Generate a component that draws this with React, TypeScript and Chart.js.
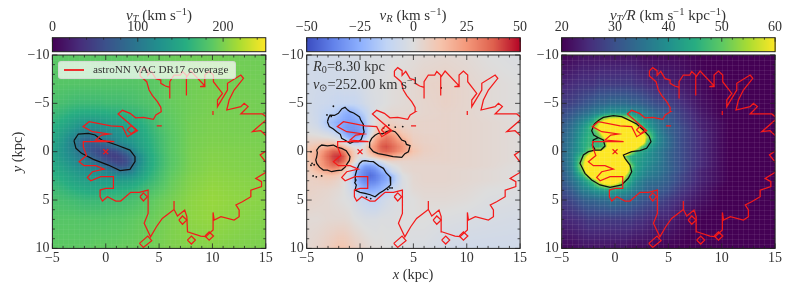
import React, { useEffect, useRef } from "react";
import { Chart, registerables } from "chart.js";

Chart.register(...registerables);

type P = [number, number];

const xNodes = [-5,-4,-3,-2.5,-2,-1.5,-1,-0.5,0,0.5,1,1.5,2,2.5,3,4,5,6,8,10,12,15];
const yNodes = [-10,-7,-5,-4,-3,-2.5,-2,-1.5,-1,-0.5,0,0.5,1,1.5,2,2.5,3,4,5,7,10];

const vTValues = [
[186,187,188,188,188,188,188,188,188,188,188,188,189,189,190,191,192,193,195,196,196,195],
[184,184,183,183,183,183,183,183,183,183,183,183,183,183,184,186,188,192,196,198,197,196],
[178,175,171,170,170,170,170,170,172,172,172,172,174,175,177,181,186,191,196,199,198,197],
[170,164,157,155,154,154,154,155,155,158,158,161,163,164,166,174,183,189,196,199,198,197],
[162,153,141,136,133,132,132,134,137,140,142,144,147,150,153,166,179,187,197,200,199,198],
[158,147,134,126,121,120,122,124,127,130,132,137,140,144,149,162,176,186,197,200,199,198],
[155,141,124,114,108,104,107,112,117,122,127,130,134,140,145,160,174,185,197,200,199,198],
[152,136,114,102,94,92,94,100,110,115,122,126,130,135,143,158,172,184,198,201,200,199],
[149,132,106,92,80,76,80,87,94,104,112,120,127,132,141,156,171,184,198,201,200,199],
[147,129,108,92,76,68,66,68,74,82,92,102,112,124,137,154,170,184,198,202,201,200],
[146,129,111,96,82,70,62,54,50,52,58,72,87,107,128,152,169,184,199,203,202,200],
[148,131,115,104,94,82,72,62,54,48,46,54,67,87,115,149,167,183,199,204,202,200],
[151,136,121,114,106,98,88,78,66,58,52,52,60,82,113,149,167,183,199,204,203,200],
[154,142,128,122,116,112,106,98,88,77,68,64,70,92,121,150,168,184,200,205,203,201],
[157,147,135,130,126,124,120,116,110,102,97,94,97,110,128,154,171,186,200,206,204,201],
[160,152,142,137,134,132,130,128,126,122,120,120,122,127,138,159,174,188,202,207,205,202],
[164,156,146,143,141,140,139,138,137,137,137,138,140,144,151,164,177,190,203,208,206,203],
[172,166,159,156,154,152,152,154,154,156,157,158,160,162,166,176,185,193,205,210,207,204],
[178,175,172,170,168,168,168,168,170,170,172,172,174,176,179,186,192,197,207,211,208,205],
[184,184,184,183,183,183,183,183,183,185,185,185,187,188,190,192,196,200,207,210,206,203],
[188,188,188,188,188,188,190,190,190,190,190,192,192,192,193,195,198,201,203,204,202,200],
];

const vRValues = [
[-6,-6,-5,-5,-5,-4,-4,-4,-3,-3,-2,-2,-2,-2,-1,0,1,2,3,2,0,-2],
[-5,-6,-6,-6,-6,-5,-5,-5,-4,-3,-2,-1,-1,0,1,2,3,5,6,4,2,0],
[-5,-7,-8,-9,-10,-10,-10,-10,-8,-5,-3,-2,-1,0,1,2,3,4,6,4,2,0],
[-4,-8,-12,-14,-18,-24,-26,-22,-17,-12,-5,-1,1,2,3,3,3,4,5,4,2,0],
[-3,-7,-18,-22,-26,-28,-30,-30,-27,-18,-4,2,6,7,7,5,5,5,5,4,3,1],
[-2,-5,-14,-19,-24,-30,-32,-32,-30,-22,-6,4,9,12,11,7,5,5,5,4,3,1],
[0,-2,-6,-10,-17,-26,-32,-34,-30,-22,-5,9,19,24,20,10,6,5,5,4,3,1],
[3,2,0,-2,-6,-17,-26,-28,-24,-16,2,18,26,32,28,15,7,6,5,4,3,1],
[6,7,9,7,3,-3,-14,-20,-16,-4,12,24,34,36,32,22,8,6,5,4,3,1],
[9,13,20,24,22,14,6,0,-3,5,20,28,38,40,36,26,10,7,5,4,3,1],
[11,18,32,38,38,30,18,8,0,5,18,26,34,36,33,24,12,7,5,4,3,1],
[11,20,36,42,44,38,21,8,0,1,7,13,19,21,19,12,8,6,5,4,3,1],
[9,20,33,40,42,34,18,3,-8,-14,-14,-10,-3,3,5,5,5,5,5,4,3,1],
[8,20,30,34,32,22,6,-9,-22,-30,-30,-26,-18,-8,-2,3,4,4,4,4,3,0],
[7,15,22,23,20,10,-2,-20,-30,-36,-38,-34,-26,-20,-8,2,4,4,4,3,2,0],
[6,9,12,12,9,4,-6,-21,-32,-38,-42,-38,-32,-26,-20,-1,3,4,4,3,2,0],
[6,7,8,7,5,1,-7,-20,-30,-36,-38,-36,-30,-26,-20,-2,3,4,4,3,2,0],
[6,5,4,3,2,0,-4,-10,-19,-24,-26,-24,-22,-16,-8,-2,2,3,3,2,0,-1],
[5,4,3,2,1,0,-1,-4,-7,-10,-12,-12,-8,-5,-3,-1,0,2,2,1,-1,-2],
[2,2,3,3,3,3,2,0,-1,-2,-2,-2,-1,-1,-1,0,0,0,-1,-2,-3,-4],
[3,5,8,10,12,12,10,8,6,4,2,1,1,0,0,-1,-2,-2,-5,-6,-6,-6],
];

const omegaValues = [
[20,21,22,22,22,22,22,22,22,22,22,22,22,21,21,21,21,21,20,19,18,17],
[24,25,26,26,26,27,27,27,27,27,27,27,26,26,25,24,24,23,21,19,18,17],
[27,28,30,31,32,33,33,34,34,34,34,33,33,32,31,29,28,26,22,20,18,17],
[29,31,34,35,37,38,40,41,41,41,41,40,39,38,36,33,31,28,23,20,18,17],
[31,34,39,42,46,56,64,70,72,72,70,62,50,44,41,36,32,29,24,21,18,17],
[32,35,41,45,52,62,72,80,80,80,80,74,60,50,43,37,33,30,24,21,18,17],
[32,36,42,45,46,54,70,85,85,85,85,80,72,60,50,38,33,30,25,21,18,17],
[33,36,43,46,47,49,60,80,90,90,90,85,80,70,54,39,34,30,25,21,18,17],
[33,37,44,46,46,46,49,70,90,100,100,90,85,72,48,39,34,30,25,21,18,17],
[33,37,44,47,47,46,49,68,100,110,110,90,66,50,44,38,34,30,25,21,18,17],
[33,38,44,50,60,62,66,85,120,120,85,58,46,43,41,37,33,30,25,21,18,17],
[33,38,50,62,72,78,85,95,90,72,50,44,43,42,40,37,33,30,25,21,18,17],
[33,38,54,70,82,90,95,95,90,82,60,46,43,41,40,37,33,30,25,21,18,17],
[32,38,56,72,85,95,95,95,90,85,72,52,43,41,39,36,33,30,25,21,18,17],
[32,37,52,68,82,90,95,95,90,85,70,48,42,40,38,36,33,30,24,21,18,17],
[31,36,46,56,70,80,88,88,85,78,56,45,41,39,37,35,32,29,24,21,18,17],
[31,35,41,45,50,60,68,70,68,60,49,43,39,37,35,34,32,29,24,21,18,17],
[29,32,37,38,40,41,42,43,42,41,40,38,36,35,33,32,30,27,23,20,18,17],
[27,29,32,33,33,34,34,35,35,34,34,33,32,31,30,29,27,25,22,20,18,17],
[24,25,26,27,27,27,27,27,27,27,27,27,26,26,25,24,24,22,20,19,18,17],
[21,21,22,22,22,22,22,22,22,22,22,21,21,21,21,20,20,20,19,18,17,17],
];

const coverageMain: P[] = [
[3.22,-8.34],[3.53,-8.69],[3.94,-8.38],[3.94,-7.9],[4.28,-8.31],[4.69,-7.55],[5.16,-7.41],[5.16,-7.07],[5.59,-6.79],[6,-6.66],[6,-5.5],[6,-7.24],[6.4,-7.93],[7,-7.93],[7.19,-8.3],[7.56,-7.9],[7.56,-5.8],[7.56,-7.7],[7.97,-8.34],[9.28,-6.8],[8.84,-6.72],[9.28,-6.72],[9.28,-7.93],[9.69,-8.34],[10.09,-7.93],[10.09,-7.24],[10.94,-6.03],[10.47,-5.34],[10.47,-4.66],[10.94,-5.52],[11.41,-6.38],[11.41,-7.07],[12.66,-7.93],[12.91,-7.59],[12.03,-6.38],[11.56,-5.34],[11.34,-4.31],[12.66,-4.66],[12.97,-5],[13.34,-4.66],[12.66,-3.9],[14.69,-3.9],[15.2,-3.45],[13.75,-2.07],[14.53,-2.17],[15.2,-1.48],[15.2,-0.2],[14.47,0.34],[15.1,1.2],[15.1,2.07],[14.06,2.76],[14.6,3.1],[14.6,3.6],[13.6,3.97],[13.6,4.66],[12.8,5.17],[12.2,5.5],[12.5,6.03],[12.5,6.72],[12.03,7.07],[10.8,6.72],[10.16,7.07],[10.06,6.28],[10.06,8.1],[9.38,8.79],[8.9,8.72],[7.66,8.28],[7.6,6.72],[7.4,6.03],[6.72,6.66],[6.4,5.97],[6.4,5.1],[6.4,5.97],[5.3,6.9],[4.75,7.76],[4.2,8.8],[3.6,7.4],[3.97,6.38],[3.97,3.97],[3.13,4.2],[2.34,4.2],[1.4,5.1],[0.94,5.1],[0.16,4.66],[-0.31,5.1],[-0.53,4.66],[-0.53,3.97],[0,3.8],[0.72,3.8],[0.72,2.59],[-0.47,2.59],[-1.4,3],[-1.72,2.66],[-1.25,2.07],[-0.16,1.8],[-0.94,1.45],[-2.03,1.45],[-2.5,1.03],[-1.8,0.4],[-2.1,-0.5],[-2.1,-1.03],[0.8,-1.03],[-0.94,-1.2],[-0.4,-1.72],[0.3,-1.83],[-1.25,-2.07],[-2.13,-2.59],[-1.56,-3.1],[0.47,-2.66],[1.56,-2.59],[2.03,-1.55],[2.97,-2.17],[1.16,-3.9],[1.56,-4.28],[2.28,-3.97],[2.8,-3.5],[3.53,-3.55],[4.47,-3.34],[4.7,-3.8],[5.2,-4.14],[5.16,-4.59],[4.84,-5.17],[4.38,-5.8],[4.06,-6.38],[3.84,-7.24],[3.22,-7.83],[3.22,-8.34],
];
const coverageDiamonds: P[][] = [
[[2.0,-2.24],[2.4,-2.7],[2.85,-2.24],[2.4,-1.85],[2.0,-2.24]],
[[3.2,4.66],[3.53,4.25],[3.9,4.66],[3.53,5.1],[3.2,4.66]],
[[6.85,7.07],[7.19,6.65],[7.6,7.07],[7.19,7.5],[6.85,7.07]],
[[7.65,9.14],[8.03,8.72],[8.4,9.14],[8.03,9.55],[7.65,9.14]],
[[9.3,8.72],[9.69,8.3],[10.1,8.72],[9.69,9.14],[9.3,8.72]],
[[3.16,9.48],[3.94,8.72],[4.31,9.2],[3.53,9.9],[3.16,9.48]],
];
const coverageDashes: P[][] = [
[[4.78,-2.66],[5.25,-2.66]],
[[10.05,-4.2],[10.05,-3.8]],
];

const barContour: P[] = [[-2.98,-1.14],[-2.57,-1.83],[-1.63,-1.9],[-1.0,-1.73],[-0.38,-1.21],[1.02,-0.69],[2.27,-0.17],[2.74,0.51],[2.74,1.03],[2.27,1.82],[1.34,1.96],[0.24,1.38],[-1.16,0.79],[-2.26,0.17],[-2.79,-0.35],[-2.98,-1.14]];
const lobeTopLeft: P[] = [[-3.06,-3.1],[-2.95,-3.5],[-2.81,-3.79],[-2.4,-3.75],[-2.03,-3.97],[-1.7,-4.45],[-1.41,-4.59],[-1.15,-4.3],[-0.94,-4.14],[-0.6,-4.0],[-0.31,-3.79],[-0.05,-3.6],[0.06,-3.28],[0.3,-2.85],[0.31,-2.41],[0.38,-2.05],[0.25,-1.72],[0.1,-1.25],[-0.16,-1.03],[-0.55,-1.05],[-0.94,-0.86],[-1.35,-1.15],[-1.72,-1.38],[-1.85,-1.8],[-2.19,-2.07],[-2.5,-2.35],[-2.88,-2.59],[-3.06,-3.1]];
const lobeRight: P[] = [[0.84,-0.52],[0.9,-0.95],[1.09,-1.38],[1.4,-1.7],[1.72,-1.9],[2.1,-1.85],[2.5,-2.07],[2.9,-2.2],[3.28,-2.07],[3.55,-1.75],[3.91,-1.21],[4.25,-1.05],[4.35,-0.75],[4.69,-0.62],[4.6,-0.25],[4.53,0],[4.2,0.2],[3.91,0.59],[3.1,0.5],[2.34,0.34],[1.7,0.2],[1.25,0],[0.84,-0.52]];
const lobeLeft: P[] = [[-4.06,0.52],[-4.0,0.1],[-4.06,-0.17],[-3.85,-0.5],[-3.59,-0.69],[-3.05,-0.6],[-2.5,-0.69],[-2.1,-0.45],[-1.72,-0.34],[-1.3,-0.1],[-0.94,0.52],[-1.0,0.9],[-1.19,1.21],[-1.4,1.6],[-1.72,1.9],[-2.2,1.95],[-2.66,2.07],[-3.05,1.9],[-3.44,1.9],[-3.8,1.6],[-4.06,1.21],[-4.15,0.85],[-4.06,0.52]];
const lobeBottom: P[] = [[-0.06,1.21],[0.2,0.98],[0.47,0.93],[0.85,1.0],[1.25,1.03],[1.75,1.45],[2.19,1.72],[2.45,2.2],[2.81,2.59],[2.85,3.05],[2.88,3.45],[2.6,3.7],[2.19,4.03],[1.8,4.3],[1.41,4.66],[0.95,4.45],[0.47,4.31],[0,4.2],[-0.47,3.97],[-0.35,3.45],[-0.5,3.2],[-0.38,2.93],[-0.45,2.45],[-0.31,1.9],[-0.06,1.21]];
const blobContour: P[] = [[-1.94,-2.86],[-1.5,-3.28],[-1.1,-3.55],[-0.16,-3.73],[0.62,-3.62],[1.4,-3.21],[2.03,-2.86],[2.65,-2.24],[3.18,-1.62],[3.37,-1.04],[2.96,-0.35],[2.34,-0.11],[1.56,0],[0.78,0.34],[0.93,0.69],[1.4,1.38],[1.56,2.07],[1.24,2.75],[0.62,3.44],[-0.47,3.69],[-1.41,3.44],[-2.19,2.93],[-2.82,2.24],[-3.29,1.2],[-2.97,0.34],[-2.5,0],[-1.88,-0.17],[-1.32,-0.17],[-0.94,-0.59],[-1.1,-1.21],[-1.57,-1.45],[-2.04,-1.21],[-2.13,-0.69],[-1.88,-0.24],[-2.13,-0.69],[-2.04,-1.21],[-1.57,-1.45],[-2.0,-1.73],[-2.19,-2.17],[-1.94,-2.86]];
const speckles: P[] = [[-2.5,-4.7],[-3.1,-3.8],[-2.7,-3.65],[2.2,-2.45],[2.7,-2.75],[3.3,-2.55],[4.0,-2.6],[-4.6,0.0],[-4.5,1.2],[-4.3,1.35],[-4.6,1.4],[-4.4,2.5],[-4.1,2.6],[-3.6,2.5],[0.6,4.7],[1.0,4.85],[2.8,3.75],[3.0,3.75],[2.6,3.9],[7.6,-6.6]];

const cbarTicks = { vT: 100, vR: 25, omega: 10 };

const viridis = [[68,1,84],[71,44,122],[59,81,139],[44,113,142],[33,144,141],[39,173,129],[92,200,99],[170,220,50],[253,231,37]];
const coolwarm = [[59,76,192],[98,130,234],[141,176,254],[192,212,245],[221,221,221],[245,196,173],[244,152,122],[222,96,77],[180,4,38]];

function cmapColor(map: number[][], t: number) {
  const c = Math.max(0, Math.min(1, t)) * (map.length - 1);
  const i = Math.min(map.length - 2, Math.floor(c));
  const f = c - i;
  return [0, 1, 2].map((k) => map[i][k] + (map[i + 1][k] - map[i][k]) * f);
}

function locate(nodes: number[], v: number): [number, number] {
  let i = 0;
  while (i < nodes.length - 2 && v > nodes[i + 1]) i++;
  const f = (v - nodes[i]) / (nodes[i + 1] - nodes[i]);
  return [i, Math.max(0, Math.min(1, f))];
}

function heatPlugin(map: number[][], min: number, max: number, meshAlpha: number) {
  return {
    id: "heat",
    beforeDatasetsDraw(chart: any) {
      const { ctx, chartArea: a, scales } = chart;
      const cells = chart.data.datasets[0].data;
      const nx = xNodes.length;
      const x0 = Math.floor(a.left), y0 = Math.floor(a.top);
      const w = Math.ceil(a.right) - x0, h = Math.ceil(a.bottom) - y0;
      const off = document.createElement("canvas");
      off.width = w; off.height = h;
      const oc = off.getContext("2d")!;
      const img = oc.createImageData(w, h);
      for (let py = 0; py < h; py++) {
        const [j, fy] = locate(yNodes, scales.y.getValueForPixel(y0 + py + 0.5));
        for (let px = 0; px < w; px++) {
          const [i, fx] = locate(xNodes, scales.x.getValueForPixel(x0 + px + 0.5));
          const a00 = cells[j * nx + i].v, a10 = cells[j * nx + i + 1].v;
          const a01 = cells[(j + 1) * nx + i].v, a11 = cells[(j + 1) * nx + i + 1].v;
          const v = (a00 * (1 - fx) + a10 * fx) * (1 - fy) + (a01 * (1 - fx) + a11 * fx) * fy;
          const c = cmapColor(map, (v - min) / (max - min));
          const o = (py * w + px) * 4;
          img.data[o] = c[0]; img.data[o + 1] = c[1]; img.data[o + 2] = c[2]; img.data[o + 3] = 255;
        }
      }
      oc.putImageData(img, 0, 0);
      ctx.save();
      ctx.beginPath();
      ctx.rect(a.left, a.top, a.right - a.left, a.bottom - a.top);
      ctx.clip();
      ctx.drawImage(off, x0, y0);
      ctx.strokeStyle = `rgba(255,255,255,${meshAlpha})`;
      ctx.lineWidth = 1;
      for (let v = -5; v <= 15; v += 0.5) {
        const p = Math.round(scales.x.getPixelForValue(v)) + 0.5;
        ctx.beginPath(); ctx.moveTo(p, a.top); ctx.lineTo(p, a.bottom); ctx.stroke();
      }
      for (let v = -10; v <= 10; v += 0.5) {
        const p = Math.round(scales.y.getPixelForValue(v)) + 0.5;
        ctx.beginPath(); ctx.moveTo(a.left, p); ctx.lineTo(a.right, p); ctx.stroke();
      }
      ctx.restore();
    },
  };
}

const frameColor = "#222";

function drawFrame(ctx: any, a: any) {
  ctx.strokeStyle = frameColor;
  ctx.lineWidth = 1;
  ctx.strokeRect(a.left, a.top, a.right - a.left, a.bottom - a.top);
}

const framePlugin = {
  id: "frameTicks",
  afterDraw(chart: any) {
    const { ctx, chartArea: a, scales } = chart;
    ctx.save();
    drawFrame(ctx, a);
    ctx.strokeStyle = frameColor;
    ctx.lineWidth = 0.8;
    for (let v = -5; v <= 15; v++) {
      const len = v % 5 === 0 ? 5 : 2.5;
      const p = scales.x.getPixelForValue(v);
      ctx.beginPath();
      ctx.moveTo(p, a.bottom); ctx.lineTo(p, a.bottom - len);
      ctx.moveTo(p, a.top); ctx.lineTo(p, a.top + len);
      ctx.stroke();
    }
    for (let v = -10; v <= 10; v++) {
      const len = v % 5 === 0 ? 5 : 2.5;
      const p = scales.y.getPixelForValue(v);
      ctx.beginPath();
      ctx.moveTo(a.left, p); ctx.lineTo(a.left + len, p);
      ctx.moveTo(a.right, p); ctx.lineTo(a.right - len, p);
      ctx.stroke();
    }
    ctx.restore();
  },
};

function cbarPlugin(map: number[][], min: number, max: number, major: number) {
  return {
    id: "cbar",
    afterDraw(chart: any) {
      const { ctx, chartArea: a, scales } = chart;
      ctx.save();
      for (let px = Math.floor(a.left); px < a.right; px++) {
        const v = scales.x.getValueForPixel(px + 0.5);
        const c = cmapColor(map, (v - min) / (max - min));
        ctx.fillStyle = `rgb(${c[0]},${c[1]},${c[2]})`;
        ctx.fillRect(px, a.top, 1, a.bottom - a.top);
      }
      drawFrame(ctx, a);
      ctx.strokeStyle = frameColor;
      ctx.lineWidth = 0.8;
      const minor = major / 5;
      for (let k = 0; min + k * minor <= max + 1e-9; k++) {
        const p = scales.x.getPixelForValue(min + k * minor);
        const len = k % 5 === 0 ? 4 : 2;
        ctx.beginPath(); ctx.moveTo(p, a.top); ctx.lineTo(p, a.top + len); ctx.stroke();
      }
      ctx.restore();
    },
  };
}

const tickFont = { family: "'Liberation Serif'", size: 14 };
const fmt = (v: any) => String(v).replace("-", "\u2212");

const toPts = (p: P[]) => p.map(([x, y]) => ({ x, y }));
const lineDs = (p: P[], color: string, bw = 1.25) => ({
  data: toPts(p), showLine: true, borderColor: color, borderWidth: bw,
  pointRadius: 0, tension: 0, fill: false,
});

const plotTop = 55, plotBottom = 248.4, plotWidth = 213.4;
const barTop = 37.7, barBottom = 51.7;

function Panel({ left, grid, map, min, max, major, contours, mesh, dots }: any) {
  const mainRef = useRef<HTMLCanvasElement>(null);
  const barRef = useRef<HTMLCanvasElement>(null);
  const canvasLeft = Math.floor(left) - 46;
  const canvasWidth = 46 + 214 + 15;
  const barCanvasTop = 16;
  useEffect(() => {
    const cells: any[] = [];
    yNodes.forEach((y, j) => xNodes.forEach((x, i) => cells.push({ x, y, v: grid[j][i] })));
    const datasets: any[] = [
      { data: cells, pointRadius: 0, showLine: false },
      lineDs(coverageMain, "#f41a1a"),
      ...coverageDiamonds.map((d) => lineDs(d, "#f41a1a")),
      ...coverageDashes.map((d) => lineDs(d, "#f41a1a")),
      ...contours.map((c: P[]) => lineDs(c, "#101010")),
      { data: [{ x: 0, y: 0 }], pointStyle: "crossRot", pointRadius: 3.5, borderColor: "#f01818", borderWidth: 1.2, showLine: false },
    ];
    if (dots) datasets.push({ data: toPts(dots), pointRadius: 0.9, backgroundColor: "#111", borderWidth: 0, showLine: false });
    const main = new Chart(mainRef.current!, {
      type: "scatter",
      data: { datasets },
      plugins: [heatPlugin(map, min, max, mesh), framePlugin],
      options: {
        animation: false, responsive: false, events: [],
        layout: { padding: { top: plotTop, right: canvasWidth - (left - canvasLeft) - plotWidth, left: 0, bottom: 0 } },
        plugins: { legend: { display: false }, tooltip: { enabled: false } },
        scales: {
          x: { type: "linear", min: -5, max: 15, grid: { display: false, drawTicks: false }, border: { display: false },
            ticks: { stepSize: 5, font: tickFont, color: "#333", maxRotation: 0, padding: 2, callback: fmt },
            afterFit: (s: any) => { s.height = 289 - plotBottom; } },
          y: { type: "linear", min: -10, max: 10, reverse: true, grid: { display: false, drawTicks: false }, border: { display: false },
            ticks: { stepSize: 5, font: tickFont, color: "#333", padding: 3, callback: fmt },
            afterFit: (s: any) => { s.width = left - canvasLeft; } },
        },
      } as any,
    } as any);
    const bar = new Chart(barRef.current!, {
      type: "scatter",
      data: { datasets: [{ data: [] }] },
      plugins: [cbarPlugin(map, min, max, major)],
      options: {
        animation: false, responsive: false, events: [],
        layout: { padding: { left: left - canvasLeft, right: canvasWidth - (left - canvasLeft) - plotWidth, top: 0, bottom: 54 - barBottom } },
        plugins: { legend: { display: false }, tooltip: { enabled: false } },
        scales: {
          x: { type: "linear", position: "top", min, max, grid: { display: false, drawTicks: false }, border: { display: false },
            ticks: { stepSize: major, includeBounds: false, font: tickFont, color: "#333", maxRotation: 0, padding: 2, callback: fmt },
            afterFit: (s: any) => { s.height = barTop - barCanvasTop; } },
          y: { display: false, min: 0, max: 1 },
        },
      } as any,
    } as any);
    return () => { main.destroy(); bar.destroy(); };
  }, []);
  return (
    <>
      <canvas ref={mainRef} width={canvasWidth} height={289} style={{ position: "absolute", left: canvasLeft, top: 0, width: canvasWidth, height: 289 }} />
      <canvas ref={barRef} width={canvasWidth} height={54 - barCanvasTop} style={{ position: "absolute", left: canvasLeft, top: barCanvasTop, width: canvasWidth, height: 54 - barCanvasTop }} />
    </>
  );
}

const serif = "'Liberation Serif', serif";
const textStyle = (x: number, y: number, size: number, center = true): React.CSSProperties => ({
  position: "absolute", left: x, top: y, fontFamily: serif, fontSize: size, color: "#333", whiteSpace: "nowrap",
  transform: center ? "translate(-50%,-50%)" : "translateY(-50%)", lineHeight: 1,
});
const subS: React.CSSProperties = { fontSize: "0.7em", verticalAlign: "-0.25em", lineHeight: 0 };
const supS: React.CSSProperties = { fontSize: "0.7em", verticalAlign: "0.45em", lineHeight: 0 };

export default function App() {
  return (
    <div style={{ position: "absolute", left: 0, top: 0, width: 789, height: 289, background: "#fff", overflow: "hidden", filter: "blur(0.3px)" }}>
      <Panel left={52.4} grid={vTValues} map={viridis} min={0} max={250} major={cbarTicks.vT} mesh={0.04} contours={[barContour]} />
      <Panel left={306.7} grid={vRValues} map={coolwarm} min={-50} max={50} major={cbarTicks.vR} mesh={0.02} contours={[lobeTopLeft, lobeRight, lobeLeft, lobeBottom]} dots={speckles} />
      <Panel left={561.7} grid={omegaValues} map={viridis} min={20} max={60} major={cbarTicks.omega} mesh={0.07} contours={[blobContour]} />

      <div style={textStyle(159, 15, 15)}><i>v<span style={subS}>T</span></i> (km s<span style={supS}>−1</span>)</div>
      <div style={textStyle(413, 15, 15)}><i>v<span style={subS}>R</span></i> (km s<span style={supS}>−1</span>)</div>
      <div style={textStyle(668, 15, 15)}><i>v<span style={subS}>T</span>/R</i> (km s<span style={supS}>−1</span> kpc<span style={supS}>−1</span>)</div>

      <div style={{ ...textStyle(17, 152, 14.5), transform: "translate(-50%,-50%) rotate(-90deg)" }}><i>y</i> (kpc)</div>
      <div style={textStyle(413, 274, 14.5)}><i>x</i> (kpc)</div>

      <div style={{ position: "absolute", left: 58.3, top: 61, width: 177.4, height: 18, background: "rgba(255,255,255,0.72)", border: "1px solid rgba(210,210,210,0.7)", borderRadius: 3, boxSizing: "border-box" }}>
        <div style={{ position: "absolute", left: 5, top: 7, width: 20, height: 1.5, background: "#ee3030" }} />
      </div>
      <div style={textStyle(93, 70, 11.2, false)}>astroNN VAC DR17 coverage</div>

      <div style={textStyle(313, 66, 14.5, false)}><i>R</i><span style={subS}>0</span>=8.30 kpc</div>
      <div style={textStyle(313, 84, 14.5, false)}><i>v</i><span style={subS}>⊙</span>=252.00 km s<span style={supS}>−1</span></div>
    </div>
  );
}
